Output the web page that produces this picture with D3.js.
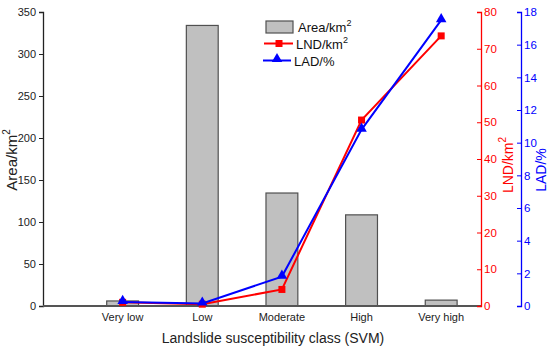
<!DOCTYPE html>
<html>
<head>
<meta charset="utf-8">
<script src="https://cdn.jsdelivr.net/npm/d3@7"></script>
<style>
  body { margin: 0; background: #fff; }
  svg { font-family: "Liberation Sans", Arial, sans-serif; }
</style>
</head>
<body>
<svg id="chart" width="550" height="349"></svg>
<script>
// data
var classes = ['Very low', 'Low', 'Moderate', 'High', 'Very high'];
var area = [6, 334, 134.5, 108.5, 7];          // km2
var lnd = [1, 0.5, 4.5, 50.6, 73.5];           // LND/km2
var lad = [0.25, 0.15, 1.8, 10.8, 17.5];       // LAD/%
var areaTicks = [0, 50, 100, 150, 200, 250, 300, 350];
var lndTicks = [0, 10, 20, 30, 40, 50, 60, 70, 80];
var ladTicks = [0, 2, 4, 6, 8, 10, 12, 14, 16, 18];

var svg = d3.select('#chart');
var plotLeft = 43, plotRight = 481, plotTop = 12, plotBottom = 306;
var blueX = 521;

var x = d3.scaleLinear().domain([0, 5.5]).range([plotLeft, plotRight]);
var yArea = d3.scaleLinear().domain([0, 350]).range([plotBottom, plotTop]);
var yLnd = d3.scaleLinear().domain([0, 80]).range([plotBottom, plotTop]);
var yLad = d3.scaleLinear().domain([0, 18]).range([plotBottom, plotTop]);

var pos = function(i) { return x(i + 1); };
var barW = x(0.4) - x(0);

// bars
svg.append('g').selectAll('rect')
  .data(area)
  .enter().append('rect')
    .attr('x', function(d, i) { return pos(i) - barW / 2; })
    .attr('y', function(d) { return yArea(d); })
    .attr('width', barW)
    .attr('height', function(d) { return yArea(0) - yArea(d); })
    .attr('fill', '#c0c0c0')
    .attr('stroke', '#505050')
    .attr('stroke-width', 1.2);

// left axis
var axL = svg.append('g')
  .attr('transform', 'translate(' + plotLeft + ',0)')
  .call(d3.axisLeft(yArea).tickValues(areaTicks).tickSize(4).tickPadding(3));
axL.select('.domain').attr('stroke', '#222').attr('stroke-width', 1.3);
axL.selectAll('.tick line').attr('stroke', '#222');
axL.selectAll('text').attr('font-size', 11).attr('fill', '#222');

// bottom axis line and category labels
svg.append('line')
  .attr('x1', plotLeft).attr('x2', plotRight)
  .attr('y1', plotBottom).attr('y2', plotBottom)
  .attr('stroke', '#555').attr('stroke-width', 2);
svg.append('g').selectAll('text')
  .data(classes)
  .enter().append('text')
    .attr('x', function(d, i) { return pos(i); })
    .attr('y', 321)
    .attr('text-anchor', 'middle')
    .attr('font-size', 11)
    .attr('fill', '#222')
    .text(function(d) { return d; });

// red right axis
var axR = svg.append('g')
  .attr('transform', 'translate(' + plotRight + ',0)')
  .call(d3.axisRight(yLnd).tickValues(lndTicks).tickSize(-4).tickPadding(3));
axR.select('.domain').attr('stroke', '#ff0000').attr('stroke-width', 1.3);
axR.selectAll('.tick line').attr('stroke', '#ff0000');
axR.selectAll('text').attr('font-size', 11.5).attr('fill', '#ff0000');

// blue right axis
var axB = svg.append('g')
  .attr('transform', 'translate(' + blueX + ',0)')
  .call(d3.axisRight(yLad).tickValues(ladTicks).tickSize(-4).tickPadding(3));
axB.select('.domain').attr('stroke', '#0000ff').attr('stroke-width', 1.3);
axB.selectAll('.tick line').attr('stroke', '#0000ff');
axB.selectAll('text').attr('font-size', 11.5).attr('fill', '#0000ff');

// lines
var lineLnd = d3.line().x(function(d, i) { return pos(i); }).y(function(d) { return yLnd(d); });
var lineLad = d3.line().x(function(d, i) { return pos(i); }).y(function(d) { return yLad(d); });

svg.append('path').datum(lnd)
  .attr('d', lineLnd).attr('fill', 'none').attr('stroke', '#ff0000').attr('stroke-width', 2);
svg.append('g').selectAll('rect')
  .data(lnd)
  .enter().append('rect')
    .attr('x', function(d, i) { return pos(i) - 3.5; })
    .attr('y', function(d) { return yLnd(d) - 3.5; })
    .attr('width', 7).attr('height', 7)
    .attr('fill', '#ff0000');

svg.append('path').datum(lad)
  .attr('d', lineLad).attr('fill', 'none').attr('stroke', '#0000ff').attr('stroke-width', 2);
var tri = d3.symbol().type(d3.symbolTriangle).size(48);
svg.append('g').selectAll('path')
  .data(lad)
  .enter().append('path')
    .attr('d', tri)
    .attr('transform', function(d, i) { return 'translate(' + pos(i) + ',' + (yLad(d) - 1) + ')'; })
    .attr('fill', '#0000ff');

// axis titles
var t1 = svg.append('text')
  .attr('transform', 'translate(17,160) rotate(-90)')
  .attr('text-anchor', 'middle')
  .attr('font-size', 15)
  .attr('fill', '#222');
t1.append('tspan').text('Area/km');
t1.append('tspan').attr('font-size', 10).attr('dy', -7).text('2');

svg.append('text')
  .attr('x', 273)
  .attr('y', 343)
  .attr('text-anchor', 'middle')
  .attr('font-size', 14)
  .attr('fill', '#222')
  .text('Landslide susceptibility class (SVM)');

var t2 = svg.append('text')
  .attr('transform', 'translate(513,165) rotate(-90)')
  .attr('text-anchor', 'middle')
  .attr('font-size', 14)
  .attr('fill', '#ff0000');
t2.append('tspan').text('LND/km');
t2.append('tspan').attr('font-size', 10).attr('dy', -7).text('2');

svg.append('text')
  .attr('transform', 'translate(546,170) rotate(-90)')
  .attr('text-anchor', 'middle')
  .attr('font-size', 14)
  .attr('fill', '#0000ff')
  .text('LAD/%');

// legend
var lg = svg.append('g');
lg.append('rect')
  .attr('x', 266).attr('y', 21).attr('width', 27).attr('height', 12)
  .attr('fill', '#c0c0c0').attr('stroke', '#505050').attr('stroke-width', 1.2);
var la = lg.append('text').attr('x', 298).attr('y', 32).attr('font-size', 13).attr('fill', '#111');
la.append('tspan').text('Area/km');
la.append('tspan').attr('font-size', 9).attr('dy', -6).text('2');

lg.append('line').attr('x1', 264).attr('x2', 293).attr('y1', 43.5).attr('y2', 43.5)
  .attr('stroke', '#ff0000').attr('stroke-width', 2);
lg.append('rect').attr('x', 275.5).attr('y', 40).attr('width', 7).attr('height', 7).attr('fill', '#ff0000');
var ln = lg.append('text').attr('x', 296).attr('y', 49).attr('font-size', 13).attr('fill', '#111');
ln.append('tspan').text('LND/km');
ln.append('tspan').attr('font-size', 9).attr('dy', -6).text('2');

lg.append('line').attr('x1', 263).attr('x2', 291).attr('y1', 60.5).attr('y2', 60.5)
  .attr('stroke', '#0000ff').attr('stroke-width', 2);
lg.append('path').attr('d', tri).attr('transform', 'translate(277,59)').attr('fill', '#0000ff');
lg.append('text').attr('x', 294).attr('y', 66).attr('font-size', 13).attr('fill', '#111').text('LAD/%');
</script>
</body>
</html>
